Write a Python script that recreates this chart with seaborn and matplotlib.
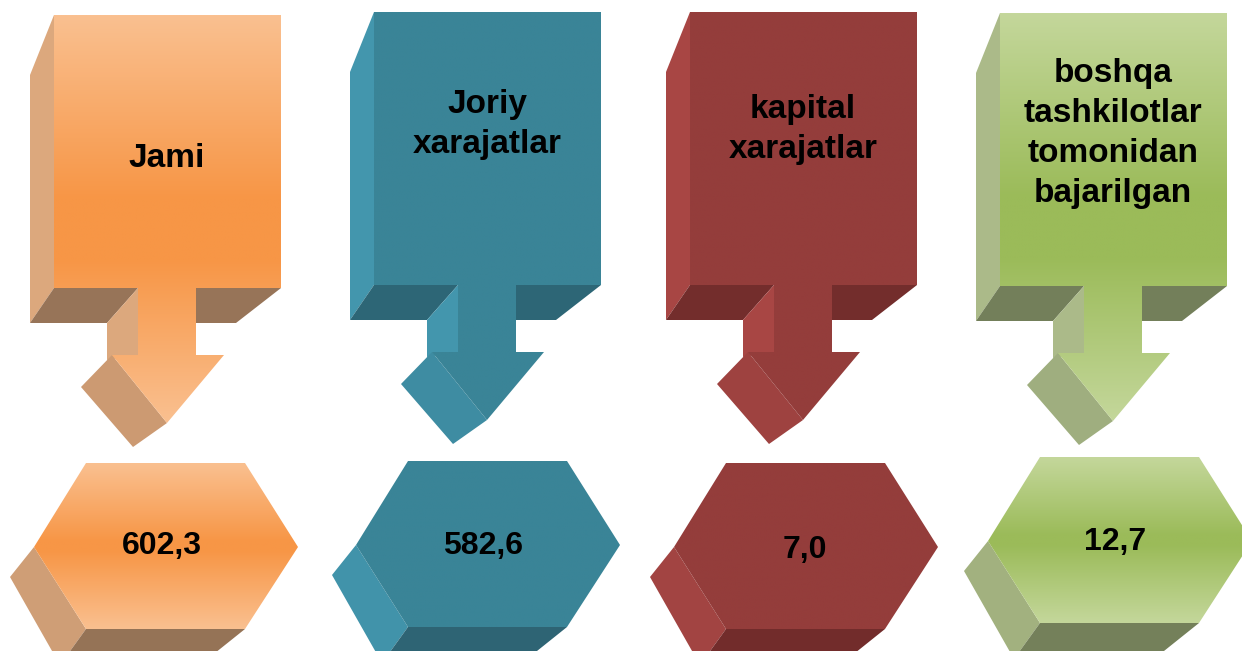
import numpy as np
import matplotlib
matplotlib.use("Agg")
import matplotlib.pyplot as plt
import seaborn as sns
from matplotlib.patches import Polygon
from matplotlib.colors import LinearSegmentedColormap

# data
categories = ["Jami", "Joriy xarajatlar", "kapital xarajatlar",
              "boshqa tashkilotlar tomonidan bajarilgan"]
label_lines = [["Jami"],
               ["Joriy", "xarajatlar"],
               ["kapital", "xarajatlar"],
               ["boshqa", "tashkilotlar", "tomonidan", "bajarilgan"]]
values = [602.3, 582.6, 7.0, 12.7]

# colours: front light, front dark, side, bottom, head side, hex side, hex bottom
front_light = ["#FAC090", "#3A8497", "#943D3B", "#C4D79B"]
front_dark = ["#F79646", "#3A8497", "#943D3B", "#9BBB59"]
side_col = ["#DCA87D", "#4396AD", "#A84644", "#ABBA89"]
bottom_col = ["#977458", "#2D6676", "#732D2C", "#737F5A"]
head_side_col = ["#CC9A72", "#3E8CA2", "#9E4240", "#9FAE7F"]
hex_side_col = ["#CF9E76", "#4193AA", "#A24442", "#A2B17F"]
hex_bottom_col = ["#957356", "#2E6474", "#722C2B", "#74805A"]

# layout (pixel coords of the first column, then offsets)
ARROW_FRONT = [(54, 15), (281, 15), (281, 288), (196, 288), (196, 355), (224, 355),
               (167, 423), (112, 355), (138, 355), (138, 288), (54, 288)]
BOX_SIDE = [(30, 75), (54, 15), (54, 288), (30, 323)]
BOX_BOTTOM_L = [(30, 323), (54, 288), (138, 288), (107, 323)]
BOX_BOTTOM_R = [(196, 288), (281, 288), (236, 323), (196, 323)]
STEM_SIDE = [(107, 323), (138, 288), (138, 355), (107, 360)]
HEAD_SIDE = [(112, 355), (167, 423), (133, 447), (81, 387)]
HEX_FRONT = [(86, 463), (245, 463), (298, 547), (245, 629), (86, 629), (34, 547)]
HEX_SIDE = [(34, 547), (86, 629), (60, 665), (10, 577)]
HEX_BOTTOM = [(86, 629), (245, 629), (200, 665), (60, 665)]

arrow_off = [(0, 0), (320, -3), (636, -3), (946, -2)]
hex_off = [(0, 0), (322, -2), (640, 0), (954, -6)]
label_base = [167, 113, 118, 82]
label_step = 40
value_base = [554, 554, 558, 550]
value_x = [162, 483, 805, 1115]

sns.set_theme(style="white")
plt.rcParams["font.family"] = ["Liberation Sans", "DejaVu Sans"]

fig = plt.figure(figsize=(12.42, 6.51), dpi=100, facecolor="white")
ax = fig.add_axes([0, 0, 1, 1])


def shift(pts, off):
    return [(x + off[0], y + off[1]) for x, y in pts]


def flat(pts, color, z=2):
    ax.add_patch(Polygon(pts, closed=True, facecolor=color, edgecolor="none", zorder=z))


def grad_fill(pts, light, dark, stops):
    poly = Polygon(pts, closed=True, facecolor="none", edgecolor="none", zorder=3)
    ax.add_patch(poly)
    xs = [p[0] for p in pts]
    ys = [p[1] for p in pts]
    cmap = LinearSegmentedColormap.from_list(
        "g", [(stops[0], light), (stops[1], dark), (stops[2], dark), (stops[3], light)])
    grad = np.linspace(0, 1, 256).reshape(-1, 1)
    im = ax.imshow(grad, cmap=cmap, extent=(min(xs), max(xs), max(ys), min(ys)),
                   origin="upper", aspect="auto", interpolation="bilinear", zorder=3)
    im.set_clip_path(poly)


for i in range(len(categories)):
    ao = arrow_off[i]
    ho = hex_off[i]
    flat(shift(BOX_SIDE, ao), side_col[i])
    flat(shift(BOX_BOTTOM_L, ao), bottom_col[i])
    flat(shift(BOX_BOTTOM_R, ao), bottom_col[i])
    flat(shift(STEM_SIDE, ao), side_col[i])
    flat(shift(HEAD_SIDE, ao), head_side_col[i], z=2.5)
    grad_fill(shift(ARROW_FRONT, ao), front_light[i], front_dark[i], (0, 0.45, 0.6, 1))

    flat(shift(HEX_SIDE, ho), hex_side_col[i])
    flat(shift(HEX_BOTTOM, ho), hex_bottom_col[i])
    grad_fill(shift(HEX_FRONT, ho), front_light[i], front_dark[i], (0, 0.47, 0.53, 1))

    cx = 167 + ao[0]
    for k, line in enumerate(label_lines[i]):
        ax.text(cx, label_base[i] + k * label_step, line, ha="center", va="baseline",
                fontsize=24, fontweight="bold", color="black", zorder=5)
    ax.text(value_x[i], value_base[i], f"{values[i]:.1f}".replace(".", ","),
            ha="center", va="baseline", fontsize=23, fontweight="bold",
            color="black", zorder=5)

ax.set_xlim(0, 1242)
ax.set_ylim(651, 0)
ax.axis("off")

fig.savefig("out.png", dpi=100, facecolor="white")
